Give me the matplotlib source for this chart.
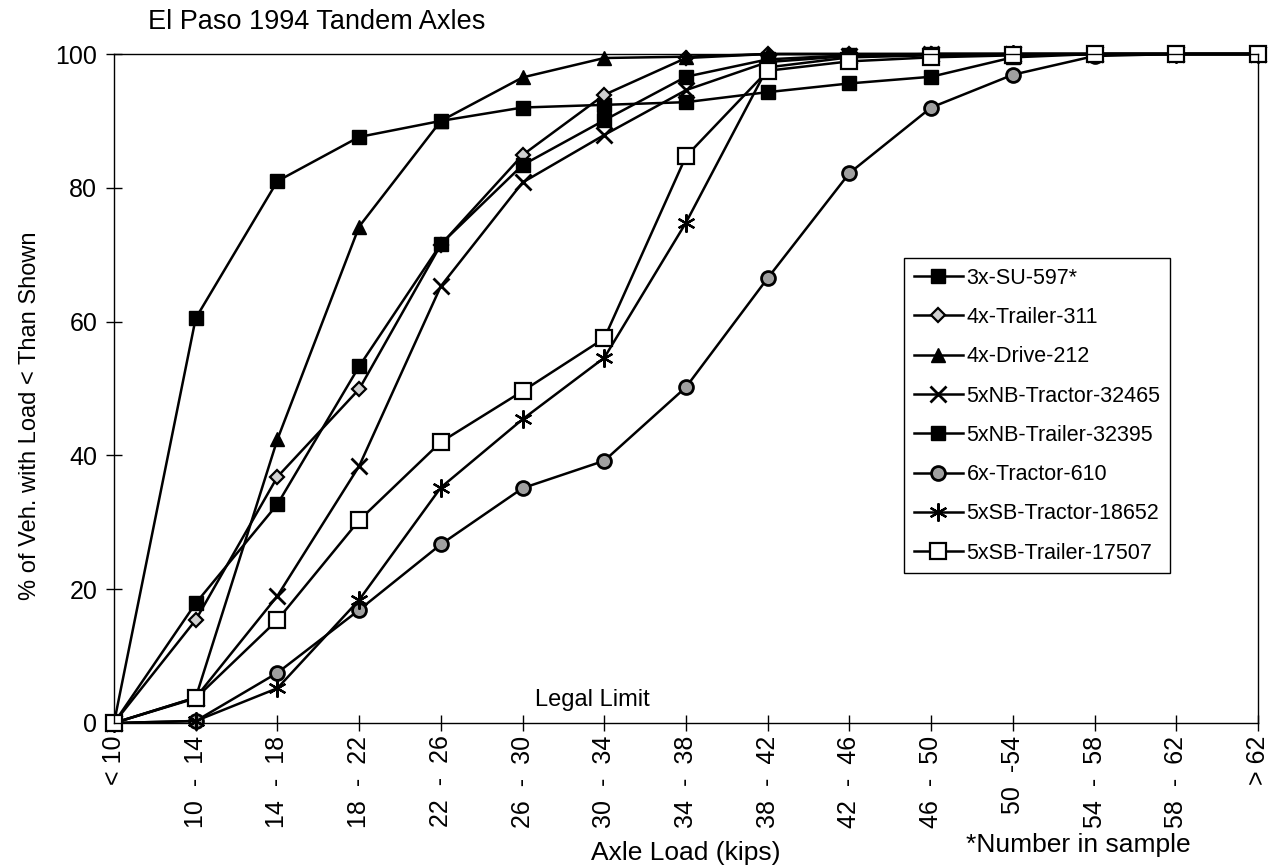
import matplotlib
matplotlib.use("Agg")
import matplotlib.pyplot as plt

plt.rcParams['font.family'] = ['Liberation Sans', 'DejaVu Sans']

# axle load bins (kips)
cats = ["< 10", "10  -  14", "14  -  18", "18  -  22", "22  -  26", "26  -  30", "30  -  34",
        "34  -  38", "38  -  42", "42  -  46", "46  -  50", "50  -54", "54  -  58", "58  -  62", "> 62"]

# cumulative % of vehicles with load below each bin
su3_597 = [0, 60.5, 81.0, 87.6, 90.0, 92.0, 92.4, 92.8, 94.3, 95.6, 96.6, 99.5, 100, 100, 100]
trailer4_311 = [0, 15.4, 36.8, 49.9, 71.5, 84.9, 93.9, 99.4, 100, 100, 100, 100, 100, 100, 100]
drive4_212 = [0, 3.8, 42.4, 74.2, 90.0, 96.5, 99.4, 99.6, 100, 100, 100, 100, 100, 100, 100]
nb_tractor = [0, 3.8, 19.0, 38.4, 65.3, 80.8, 87.9, 94.6, 98.8, 99.7, 100, 100, 100, 100, 100]
nb_trailer = [0, 17.9, 32.7, 53.3, 71.6, 83.4, 90.1, 96.6, 99.2, 99.8, 100, 100, 100, 100, 100]
tractor6_610 = [0, 0.3, 7.5, 16.9, 26.7, 35.1, 39.2, 50.2, 66.5, 82.2, 92.0, 96.9, 99.7, 100, 100]
sb_tractor = [0, 0.3, 5.2, 18.4, 35.2, 45.4, 54.6, 74.8, 98.0, 99.5, 99.8, 100, 100, 100, 100]
sb_trailer = [0, 3.7, 15.4, 30.3, 42.0, 49.6, 57.5, 84.7, 97.5, 98.9, 99.5, 99.8, 100, 100, 100]

labels = ["3x-SU-597*", "4x-Trailer-311", "4x-Drive-212", "5xNB-Tractor-32465",
          "5xNB-Trailer-32395", "6x-Tractor-610", "5xSB-Tractor-18652", "5xSB-Trailer-17507"]
values = [su3_597, trailer4_311, drive4_212, nb_tractor,
          nb_trailer, tractor6_610, sb_tractor, sb_trailer]
styles = [
    dict(marker='s', ms=10, mfc='black', mew=1),
    dict(marker='D', ms=7, mfc='#d0d0d0', mew=1.6),
    dict(marker='^', ms=10, mfc='black', mew=1),
    dict(marker='x', ms=12, mew=2),
    dict(marker='s', ms=10, mfc='black', mew=1),
    dict(marker='o', ms=10, mfc='#a0a0a0', mew=2),
    dict(marker=(6, 2, 0), ms=13, mew=1.6),
    dict(marker='s', ms=12, mfc='white', mew=1.6),
]

fig = plt.figure(figsize=(12.77, 8.68), dpi=100)
ax = fig.add_axes([114 / 1277, 1 - 723 / 868, (1258 - 114) / 1277, (723 - 54) / 868])

x = list(range(len(cats)))
for lab, vals, st in zip(labels, values, styles):
    ax.plot(x, vals, color='black', lw=1.8, mec='black', clip_on=False, label=lab, **st)

ax.set_xlim(0, len(cats) - 1)
ax.set_ylim(0, 100)
ax.set_yticks([0, 20, 40, 60, 80, 100])
ax.set_xticks(x)
ax.set_xticklabels(cats, rotation=90)
ax.tick_params(direction='inout', length=12, width=1)
ax.tick_params(axis='y', pad=6, labelsize=18)
ax.tick_params(axis='x', pad=3, labelsize=18)
for sp in ax.spines.values():
    sp.set_linewidth(1)

ax.text(5.85, 3.4, "Legal Limit", ha='center', va='center', fontsize=17)

fig.text(30 / 1277, 1 - 416 / 868, "% of Veh. with Load < Than Shown",
         rotation=90, ha='center', va='center', fontsize=17)
fig.text(148 / 1277, 1 - 22 / 868, "El Paso 1994 Tandem Axles", ha='left', va='center', fontsize=19.5)
fig.text(686 / 1277, 1 - 853 / 868, "Axle Load (kips)", ha='center', va='center', fontsize=19)
fig.text(1078 / 1277, 1 - 845 / 868, "*Number in sample", ha='center', va='center', fontsize=19)

leg = ax.legend(loc='upper left', bbox_to_anchor=(904 / 1277, 1 - 258 / 868),
                bbox_transform=fig.transFigure, fancybox=False, edgecolor='black',
                framealpha=1, fontsize=15.5, handlelength=2.3, handletextpad=0.15,
                labelspacing=0.85, borderpad=0.45, borderaxespad=0)
leg.get_frame().set_linewidth(1)

fig.savefig("out.png", dpi=100)
